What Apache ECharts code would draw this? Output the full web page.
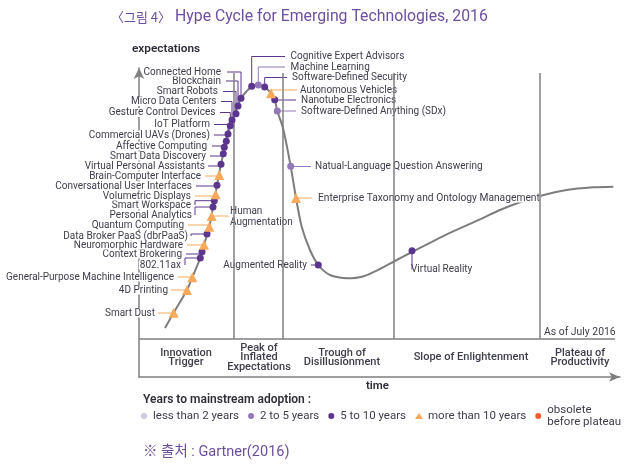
<!DOCTYPE html>
<html><head><meta charset="utf-8">
<style>html,body{margin:0;padding:0;background:#fff}#c{width:638px;height:468px}</style>
<script src="https://cdn.jsdelivr.net/npm/echarts@6/dist/echarts.min.js"></script>
</head><body><div id="c"></div>
<script>
// ---- data (x: time, y: expectations) ----
const curveX = [26,34.7,48,53.3,61.3,65,70.3,74,78,82,87.3,91.3,99,102,107,112.7,119.3,125.7,132,135.7,138.3,144,151.7,157,162.7,171,179.3,191,207.7,224,241,255,274,307.7,341,361,381,401,427.7,454,474.3];
const curveY = [11,26.3,49,61.7,81,94.3,112.3,132,153.7,174.7,197.7,213.3,233,240.7,247,252.7,254,252,245.7,239.3,228,211,172.7,141,112.3,89,74,64,60.7,62.5,70,77.5,87.5,104.7,119.7,129,136.7,143,149,151.7,152.3];
const techNames = ["Smart Dust","4D Printing","General-Purpose Machine Intelligence","802.11ax","Context Brokering","Neuromorphic Hardware","Data Broker PaaS (dbrPaaS)","Quantum Computing","Human\nAugmentation","Personal Analytics","Smart Workspace","Volumetric Displays","Conversational User Interfaces","Brain-Computer Interface","Virtual Personal Assistants","Smart Data Discovery","Affective Computing","Commercial UAVs (Drones)","IoT Platform","Gesture Control Devices","Micro Data Centers","Smart Robots","Blockchain","Connected Home","Cognitive Expert Advisors","Machine Learning","Software-Defined Security","Autonomous Vehicles","Nanotube Electronics","Software-Defined Anything (SDx)","Natual-Language Question Answering","Enterprise Taxonomy and Ontology Management","Augmented Reality","Virtual Reality"];
const techX = [34.7,48,53.3,61.3,63,65,68,70.3,72.7,74,75.3,76.7,78,80.3,82,84.3,85.3,87.3,89,91.3,93,97,99,102,112.7,119.3,125.7,132,135.7,138.3,151.7,157,179.3,273];
const techY = [26.3,49,61.7,81,87.3,94.3,105,112.3,123,132,138.3,144.7,153.7,164,174.7,185.3,191.7,197.7,205,213.3,219,225.3,233,240.7,252.7,254,252,245.7,239.3,228,172.7,141,74,88.3];
const techBand = [3,3,3,2,2,3,2,3,3,2,2,3,2,3,2,2,2,2,2,2,2,2,2,2,2,1,2,3,2,1,1,3,2,2];
const bandNames = ["less than 2 years","2 to 5 years","5 to 10 years","more than 10 years","obsolete\nbefore plateau"];
const phaseNames = ["Innovation\nTrigger","Peak of\nInflated\nExpectations","Trough of\nDisillusionment","Slope of Enlightenment","Plateau of\nProductivity"];
const phaseCenters = [47,120,203,332,441];
const phaseBounds = [95,144,255,401];

// ---- layout and style ----
const bandColors = ["#cfc9e2","#9379b9","#5c358e","#f8aa5c","#ee6030"];
const ink = "#3d3d4c", rule = "#7f7f7f";
const font = 'Roboto, "Noto Sans", sans-serif';
// label anchor x, y (page px), align, leader start x, elbow ('h' horizontal first, 'v' vertical first)
const labelLayout = [
 [156,313,'right',158,'h'],[169,290,'right',171,'h'],[175,277,'right',178,'h'],[182,265,'right',185,'v'],
 [183,254,'right',186,'h'],[184,245,'right',187,'h'],[189,236,'right',191,'v'],[185,225,'right',188,'h'],
 [229,217,'left',228,'v'],[193,215,'right',195,'v'],[192,205,'right',195,'v'],[192,196,'right',195,'h'],
 [193,186,'right',196,'h'],[202,176,'right',205,'h'],[206,166,'right',208,'h'],[207,156,'right',210,'h'],
 [208,146,'right',212,'h'],[211,135,'right',214,'h'],[211,124.5,'right',214,'h'],[216.5,112.5,'right',220,'h'],
 [217.5,101.5,'right',221,'h'],[219,91.5,'right',223,'h'],[222,81,'right',226,'h'],[222,72,'right',227,'h'],
 [289.5,56.5,'left',285,'h'],[289.5,67,'left',285,'h'],[291,77.5,'left',287,'h'],[299,90,'left',297,'h'],
 [300,100,'left',296,'h'],[300,111,'left',296,'h'],[314,166.5,'left',311,'h'],[317,198,'left',312,'h'],
 [308,265,'right',311,'h'],[410,269.5,'left',412,'v']
];
const labelFontSize = name => name.startsWith("Enterprise") ? 10.25 : 10;
const techData = techNames.map((n,i)=>[techX[i],techY[i],i]);
const bandSeries = bandNames.map((name,b)=>({
  type:'scatter', name, z:5,
  symbol: b===3?'triangle':'circle',
  symbolSize: b===3?10:7,
  itemStyle:{color:bandColors[b],opacity:1},
  data: techData.filter(d=>techBand[d[2]]===b).map(d=>[d[0],d[1]]),
  silent:true
}));
const chart = echarts.init(document.getElementById('c'));
const richTitle = {
  k:{fontFamily:'"Noto Sans CJK KR"',fontSize:13,color:'#6d4f9f'},
  l:{fontFamily:'Roboto',fontSize:15.8,color:'#6d4f9f'}
};
chart.setOption({
  animation:false,
  backgroundColor:'#fff',
  textStyle:{fontFamily:font},
  title:[
    {text:"{k|〈그림 4〉} {l|Hype Cycle for Emerging Technologies, 2016}",left:111,top:9,padding:0,textStyle:{fontSize:16,fontWeight:400,color:'#6d4f9f',rich:richTitle}},
    {text:"expectations",left:132,top:43,padding:0,textStyle:{fontFamily:font,fontSize:11.8,fontWeight:600,color:'#2e2e3a'}},
    {text:"time",left:366,top:380,padding:0,textStyle:{fontFamily:font,fontSize:11.5,fontWeight:600,color:'#2e2e3a'}},
    {text:"Years to mainstream adoption :",left:143,top:394,padding:0,textStyle:{fontFamily:font,fontSize:12,fontWeight:600,color:'#2e2e3a'}},
    {text:"As of July 2016",left:544,top:327,padding:0,textStyle:{fontFamily:font,fontSize:10.4,fontWeight:400,color:ink}},
    {text:"※ 출처 : Gartner(2016)",left:143,top:445,padding:0,textStyle:{fontFamily:'Roboto, "Noto Sans CJK KR"',fontSize:14.5,fontWeight:400,color:'#6d4f9f'}}
  ],
  legend:{
    left:136,top:399,itemWidth:8,itemHeight:6,itemGap:9,orient:'horizontal',
    data:bandNames.map((name,b)=>({name,icon:b===3?'triangle':'circle'})),
    textStyle:{fontFamily:font,fontSize:11.5,color:ink,lineHeight:12},
    selectedMode:false
  },
  grid:{left:139,top:68,width:481,height:309,containLabel:false},
  xAxis:{type:'value',min:0,max:481,position:'bottom',
    axisLine:{onZero:false,symbol:['none','arrow'],symbolSize:[7,11],lineStyle:{color:rule,width:1.5}},
    axisTick:{show:false},axisLabel:{show:false},splitLine:{show:false}},
  yAxis:{type:'value',min:-38,max:271,
    axisLine:{onZero:false,symbol:['none','arrow'],symbolSize:[8,11],lineStyle:{color:rule,width:1.5}},
    axisTick:{show:false},axisLabel:{show:false},splitLine:{show:false}},
  series:[
    {type:'line',z:1,data:[],silent:true,
      markLine:{silent:true,symbol:'none',animation:false,label:{show:false},
        lineStyle:{color:rule,width:1.5,type:'solid'},
        data:[[{coord:[0,0]},{coord:[476,0]}]].concat(phaseBounds.map(x=>[{coord:[x,0]},{coord:[x,266]}]))}},
    {type:'line',z:2,silent:true,smooth:0.25,showSymbol:false,symbol:'none',
      lineStyle:{color:'#7d7d7d',width:2},
      data:curveX.map((x,i)=>[x,curveY[i]])},
    {type:'custom',z:3,silent:true,coordinateSystem:'cartesian2d',clip:false,
      encode:{x:0,y:1},
      data:techData,
      renderItem:(p,api)=>{
        const i=api.value(2), pt=api.coord([api.value(0),api.value(1)]), L=labelLayout[i];
        const [lx,ly,align,sx,elbow]=L, color=bandColors[techBand[i]];
        const mid = elbow==='h'?[pt[0],ly]:[sx,pt[1]];
        const multi = techNames[i].includes("\n");
        return {type:'group',children:[
          {type:'text',z2:1,style:{text:techNames[i],x:lx,y:ly,align,verticalAlign:'middle',fill:ink,font:labelFontSize(techNames[i])+'px '+font,
            lineHeight:multi?11.5:9,backgroundColor:'#fff',padding:[0,1,0,1]}},
          {type:'polyline',z2:2,shape:{points:[[sx,ly],mid,pt]},style:{stroke:color,lineWidth:1,fill:null}}
        ]};
      }},
    {type:'custom',z:3,silent:true,coordinateSystem:'cartesian2d',clip:false,
      encode:{x:0,y:1},
      data:phaseNames.map((n,i)=>[phaseCenters[i],-18.5,i]),
      renderItem:(p,api)=>{
        const pt=api.coord([api.value(0),api.value(1)]);
        return {type:'text',style:{text:phaseNames[api.value(2)],x:pt[0],y:pt[1],align:'center',verticalAlign:'middle',
          fill:ink,font:'500 11px '+font,lineHeight:9.5,backgroundColor:'transparent'}};
      }}
  ].concat(bandSeries)
});
</script></body></html>
